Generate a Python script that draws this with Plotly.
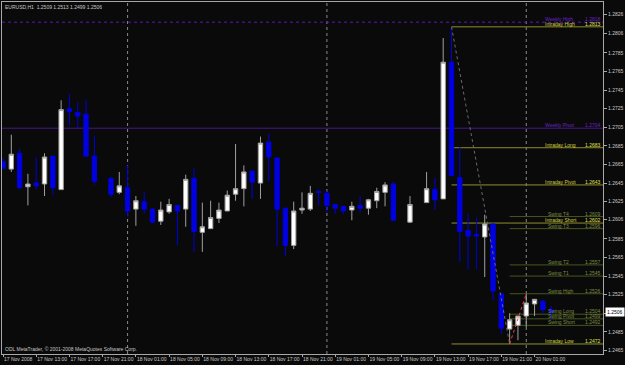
import plotly.graph_objects as go

# ---------------- data ----------------
bar_times = [
    "2008-11-17 09:00", "2008-11-17 10:00", "2008-11-17 11:00", "2008-11-17 12:00",
    "2008-11-17 13:00", "2008-11-17 14:00", "2008-11-17 15:00", "2008-11-17 16:00",
    "2008-11-17 17:00", "2008-11-17 18:00", "2008-11-17 19:00", "2008-11-17 20:00",
    "2008-11-17 22:00", "2008-11-17 23:00",
    "2008-11-18 00:00", "2008-11-18 01:00", "2008-11-18 02:00", "2008-11-18 03:00",
    "2008-11-18 04:00", "2008-11-18 05:00", "2008-11-18 06:00", "2008-11-18 07:00",
    "2008-11-18 08:00", "2008-11-18 09:00", "2008-11-18 10:00", "2008-11-18 11:00",
    "2008-11-18 12:00", "2008-11-18 13:00", "2008-11-18 14:00", "2008-11-18 15:00",
    "2008-11-18 16:00", "2008-11-18 17:00", "2008-11-18 18:00", "2008-11-18 19:00",
    "2008-11-18 20:00", "2008-11-18 21:00", "2008-11-18 22:00", "2008-11-18 23:00",
    "2008-11-19 00:00", "2008-11-19 01:00", "2008-11-19 02:00", "2008-11-19 03:00",
    "2008-11-19 04:00", "2008-11-19 05:00", "2008-11-19 06:00", "2008-11-19 07:00",
    "2008-11-19 08:00", "2008-11-19 10:00", "2008-11-19 12:00", "2008-11-19 13:00",
    "2008-11-19 14:00", "2008-11-19 15:00", "2008-11-19 16:00", "2008-11-19 17:00",
    "2008-11-19 18:00", "2008-11-19 19:00", "2008-11-19 20:00", "2008-11-19 21:00",
    "2008-11-19 22:00", "2008-11-19 23:00",
    "2008-11-20 00:00", "2008-11-20 01:00", "2008-11-20 02:00", "2008-11-20 03:00",
]
opens = [
    1.2668, 1.2660, 1.2677, 1.2641, 1.2645, 1.2644, 1.2674, 1.2638, 1.2725, 1.2721, 1.2719, 1.2674,
    1.2650, 1.2635,
    1.2640, 1.2617, 1.2625, 1.2617, 1.2604, 1.2614, 1.2621, 1.2617, 1.2650, 1.2592, 1.2596, 1.2607,
    1.2615, 1.2633, 1.2639, 1.2658, 1.2645, 1.2689, 1.2672, 1.2618, 1.2578, 1.2616, 1.2617, 1.2636,
    1.2634, 1.2622, 1.2620, 1.2616, 1.2621, 1.2618, 1.2626, 1.2635, 1.2644, 1.2603, 1.2624, 1.2638,
    1.2628, 1.2775, 1.2651, 1.2594, 1.2590, 1.2587, 1.2601, 1.2526, 1.2488, 1.2492,
    1.2502, 1.2515, 1.2518, 1.2509,
]
highs = [
    1.2672, 1.2697, 1.2682, 1.2655, 1.2673, 1.2677, 1.2674, 1.2734, 1.2741, 1.2732, 1.2735, 1.2696,
    1.2652, 1.2657,
    1.2664, 1.2631, 1.2635, 1.2618, 1.2625, 1.2628, 1.2621, 1.2654, 1.2661, 1.2624, 1.2626, 1.2624,
    1.2637, 1.2687, 1.2664, 1.2658, 1.2695, 1.2698, 1.2672, 1.2618, 1.2625, 1.2635, 1.2642, 1.2638,
    1.2637, 1.2622, 1.2620, 1.2625, 1.2631, 1.2628, 1.2640, 1.2646, 1.2646, 1.2631, 1.2657, 1.2651,
    1.2801, 1.2813, 1.2684, 1.2612, 1.2608, 1.2611, 1.2601, 1.2526, 1.2505, 1.2502,
    1.2526, 1.2520, 1.2519, 1.2513,
]
lows = [
    1.2660, 1.2657, 1.2639, 1.2621, 1.2638, 1.2631, 1.2632, 1.2638, 1.2707, 1.2704, 1.2674, 1.2643,
    1.2630, 1.2633,
    1.2609, 1.2599, 1.2612, 1.2602, 1.2600, 1.2612, 1.2578, 1.2598, 1.2571, 1.2571, 1.2596, 1.2602,
    1.2615, 1.2626, 1.2620, 1.2628, 1.2628, 1.2647, 1.2577, 1.2566, 1.2574, 1.2612, 1.2615, 1.2621,
    1.2613, 1.2612, 1.2612, 1.2605, 1.2613, 1.2611, 1.2618, 1.2620, 1.2605, 1.2602, 1.2624, 1.2616,
    1.2628, 1.2653, 1.2560, 1.2552, 1.2552, 1.2544, 1.2519, 1.2483, 1.2472, 1.2476,
    1.2490, 1.2502, 1.2505, 1.2499,
]
closes = [
    1.2661, 1.2676, 1.2640, 1.2644, 1.2642, 1.2673, 1.2640, 1.2724, 1.2722, 1.2717, 1.2674, 1.2647,
    1.2633, 1.2642,
    1.2615, 1.2626, 1.2617, 1.2603, 1.2616, 1.2622, 1.2615, 1.2649, 1.2593, 1.2598, 1.2608, 1.2616,
    1.2632, 1.2639, 1.2657, 1.2646, 1.2688, 1.2673, 1.2617, 1.2578, 1.2615, 1.2618, 1.2634, 1.2635,
    1.2621, 1.2618, 1.2615, 1.2620, 1.2618, 1.2627, 1.2636, 1.2643, 1.2605, 1.2622, 1.2639, 1.2627,
    1.2775, 1.2653, 1.2593, 1.2588, 1.2588, 1.2601, 1.2529, 1.2489, 1.2498, 1.2502,
    1.2516, 1.2520, 1.2509, 1.2506,
]

symbol_title = "EURUSD,H1  1.2509 1.2513 1.2499 1.2506"
copyright_text = "ODL MetaTrader, \u00a9 2001-2008 MetaQuotes Software Corp."
current_price = 1.2506

x_tick_times = [
    "2008-11-17 09:00", "2008-11-17 13:00", "2008-11-17 17:00", "2008-11-17 21:00",
    "2008-11-18 01:00", "2008-11-18 05:00", "2008-11-18 09:00", "2008-11-18 13:00",
    "2008-11-18 17:00", "2008-11-18 21:00", "2008-11-19 01:00", "2008-11-19 05:00",
    "2008-11-19 09:00", "2008-11-19 13:00", "2008-11-19 17:00", "2008-11-19 21:00",
    "2008-11-20 01:00",
]
x_tick_labels = [
    "17 Nov 2008", "17 Nov 13:00", "17 Nov 17:00", "17 Nov 21:00",
    "18 Nov 01:00", "18 Nov 05:00", "18 Nov 09:00", "18 Nov 13:00",
    "18 Nov 17:00", "18 Nov 21:00", "19 Nov 01:00", "19 Nov 05:00",
    "19 Nov 09:00", "19 Nov 13:00", "19 Nov 17:00", "19 Nov 21:00",
    "20 Nov 01:00",
]
y_tick_labels = [
    "1.2826", "1.2806", "1.2785", "1.2765", "1.2745", "1.2725", "1.2705", "1.2685",
    "1.2665", "1.2645", "1.2625", "1.2606", "1.2585", "1.2565", "1.2545", "1.2525",
    "1.2505", "1.2485", "1.2465",
]
y_tick_values = [float(s) for s in y_tick_labels]

day_separators = ["2008-11-18 00:00", "2008-11-19 00:00", "2008-11-20 00:00"]

# pivot indicator levels
intraday_start = "2008-11-19 15:00"
intraday_names = ["Intraday High", "Intraday Long", "Intraday Pivot", "Intraday Short", "Intraday Low"]
intraday_values = [1.2813, 1.2683, 1.2643, 1.2602, 1.2472]

swing_start = "2008-11-19 22:00"
swing_names = ["Swing T4", "Swing T3", "Swing T2", "Swing T1", "Swing High",
               "Swing Long", "Swing Pivot", "Swing Short"]
swing_values = [1.2609, 1.2596, 1.2557, 1.2545, 1.2526, 1.2504, 1.2499, 1.2492]
swing_low_value = 1.2472

purple_names = ["Weekly High", "Weekly Pivot"]
purple_values = [1.2818, 1.2704]

zigzag_down_times = ["2008-11-19 15:00", "2008-11-19 22:00"]
zigzag_down_prices = [1.2813, 1.2472]
zigzag_up_times = ["2008-11-19 22:00", "2008-11-20 00:00"]
zigzag_up_prices = [1.2472, 1.2526]

# ---------------- style ----------------
BG = "#0a0a0a"
FRAME = "#a8a8a8"
TXT = "#c8c8c8"
FONT = "Liberation Sans"
X_RANGE = ["2008-11-17 08:52:48", "2008-11-20 09:14:24"]
Y_RANGE = [1.24612, 1.28397]

fig = go.Figure()

fig.add_trace(go.Candlestick(
    x=bar_times, open=opens, high=highs, low=lows, close=closes,
    increasing=dict(line=dict(color="#a0a0a0", width=1), fillcolor="#ffffff"),
    decreasing=dict(line=dict(color="#0000e0", width=1), fillcolor="#0000e0"),
    whiskerwidth=0, showlegend=False, hoverinfo="skip",
))

fig.add_trace(go.Scatter(
    x=zigzag_down_times, y=zigzag_down_prices, mode="lines",
    line=dict(color="#6a6a6a", width=1, dash="dot"), showlegend=False, hoverinfo="skip",
))
fig.add_trace(go.Scatter(
    x=zigzag_up_times, y=zigzag_up_prices, mode="lines",
    line=dict(color="#ff3a3a", width=1, dash="dot"), showlegend=False, hoverinfo="skip",
))

shapes = []
for d in day_separators:
    shapes.append(dict(type="line", xref="x", yref="paper", x0=d, x1=d, y0=0, y1=1,
                       line=dict(color="#8a8a8a", width=1, dash="dot"), layer="below"))

# purple lines
shapes.append(dict(type="line", xref="x", yref="y", x0=X_RANGE[0], x1=X_RANGE[1],
                   y0=purple_values[0], y1=purple_values[0],
                   line=dict(color="#6414c0", width=1, dash="dot"), layer="below"))
shapes.append(dict(type="line", xref="x", yref="y", x0=X_RANGE[0], x1=X_RANGE[1],
                   y0=purple_values[1], y1=purple_values[1],
                   line=dict(color="#4c168c", width=1), layer="below"))

for v in intraday_values:
    shapes.append(dict(type="line", xref="x", yref="y", x0=intraday_start, x1=X_RANGE[1],
                       y0=v, y1=v, line=dict(color="#8e8e2c", width=1), layer="below"))
for v in swing_values + [swing_low_value]:
    shapes.append(dict(type="line", xref="x", yref="y", x0=swing_start, x1=X_RANGE[1],
                       y0=v, y1=v, line=dict(color="#46561f", width=1), layer="below"))

annotations = []

def level_label(name, val, color_name, color_val, xname):
    annotations.append(dict(xref="paper", yref="y", x=xname, y=val, text=name,
                            xanchor="left", yanchor="bottom", showarrow=False,
                            font=dict(family=FONT, size=5, color=color_name),
                            borderpad=0, yshift=-1))
    annotations.append(dict(xref="paper", yref="y", x=0.998, y=val, text=f"{val:.4f}",
                            xanchor="right", yanchor="bottom", showarrow=False,
                            font=dict(family=FONT, size=5, color=color_val),
                            borderpad=0, yshift=-1))

for n, v in zip(purple_names, purple_values):
    level_label(n, v, "#6a22c0", "#6a22c0", 0.902)
for n, v in zip(intraday_names, intraday_values):
    level_label(n, v, "#d2d244", "#e0e050", 0.902)
for n, v in zip(swing_names, swing_values):
    level_label(n, v, "#7c8c44", "#7c8c44", 0.907)

annotations.append(dict(xref="paper", yref="paper", x=0.003, y=0.997, text=symbol_title,
                        xanchor="left", yanchor="top", showarrow=False,
                        font=dict(family=FONT, size=5, color=TXT), borderpad=0))
annotations.append(dict(xref="paper", yref="paper", x=0.003, y=0.003, text=copyright_text,
                        xanchor="left", yanchor="bottom", showarrow=False,
                        font=dict(family=FONT, size=5, color=TXT), borderpad=0))
annotations.append(dict(xref="paper", yref="y", x=1.0, y=current_price, text=f"{current_price:.4f}",
                        xanchor="left", yanchor="middle", showarrow=False, xshift=2,
                        font=dict(family=FONT, size=5, color="#000000"),
                        bgcolor="#ffffff", borderpad=1))

fig.update_layout(
    width=625, height=365,
    margin=dict(l=1, r=21, t=2, b=11),
    paper_bgcolor=BG, plot_bgcolor=BG,
    showlegend=False, boxgap=0.25,
    shapes=shapes, annotations=annotations,
    xaxis=dict(
        type="date", range=X_RANGE, rangeslider=dict(visible=False),
        tickvals=x_tick_times, ticktext=x_tick_labels, tickangle=0,
        ticks="outside", ticklen=2, tickcolor=FRAME, tickwidth=1,
        ticklabelposition="outside right",
        tickfont=dict(family=FONT, size=5, color=TXT),
        showgrid=False, zeroline=False, showline=True, linecolor=FRAME, linewidth=1,
        mirror=True, fixedrange=True,
    ),
    yaxis=dict(
        side="right", range=Y_RANGE,
        tickvals=y_tick_values, ticktext=y_tick_labels,
        ticks="outside", ticklen=3, tickcolor=FRAME, tickwidth=1,
        tickfont=dict(family=FONT, size=5, color=TXT),
        showgrid=False, zeroline=False, showline=True, linecolor=FRAME, linewidth=1,
        mirror=True, fixedrange=True,
    ),
)

fig.write_html("out.html")
